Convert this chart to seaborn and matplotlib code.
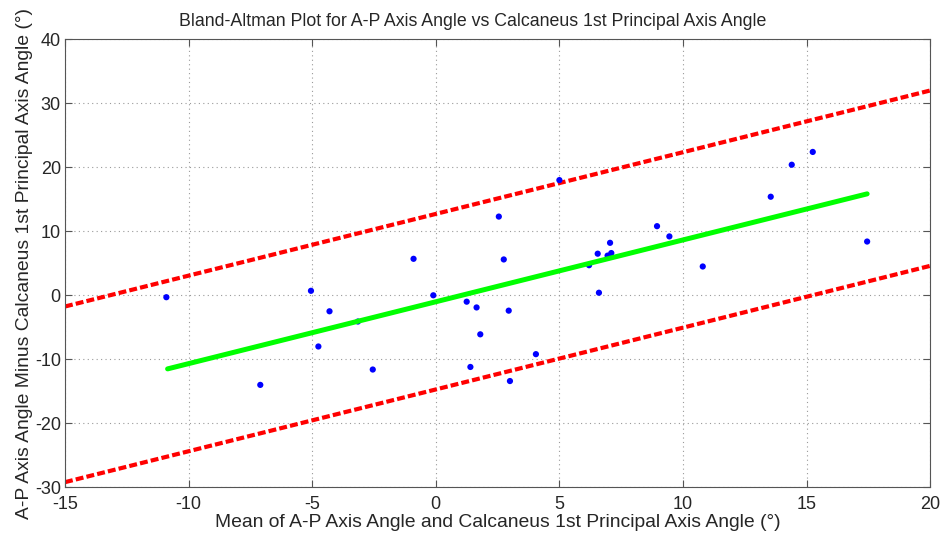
import numpy as np
import pandas as pd
import seaborn as sns
from matplotlib import pyplot as plt

# Bland-Altman data
mean_vals = [-10.9, -7.1, -5.05, -4.75, -4.3, -3.15, -2.55, -0.9, -0.1,
             1.25, 1.4, 1.65, 1.8, 2.55, 2.75, 2.95, 3.0, 4.05, 5.0,
             6.2, 6.55, 6.6, 7.05, 6.95, 7.1, 8.95, 9.45, 10.8, 13.55,
             14.4, 15.25, 17.45]
diff_vals = [-0.3, -14.0, 0.7, -8.0, -2.5, -4.1, -11.6, 5.7, 0.0,
             -1.0, -11.2, -1.9, -6.1, 12.3, 5.6, -2.4, -13.4, -9.2, 18.0,
             4.7, 6.5, 0.4, 8.2, 6.2, 6.6, 10.8, 9.2, 4.5, 15.4,
             20.4, 22.4, 8.4]

# regression line and limits of agreement (end points)
fit_x = [-10.85, 17.45]
fit_y = [-11.5, 15.85]
loa_x = [-15, 20]
upper_y = [-1.75, 32.0]
lower_y = [-29.2, 4.6]

x_ticks = list(range(-15, 21, 5))
y_ticks = list(range(-30, 41, 10))

sns.set_style("ticks")
plt.rcParams['font.family'] = ['Liberation Sans', 'DejaVu Sans']
plt.rcParams['axes.unicode_minus'] = False

fig = plt.figure(figsize=(9.45, 5.37), dpi=100)
ax = fig.add_axes([0.0688, 0.0926, 0.9155, 0.8342])

pts = pd.DataFrame({"mean": mean_vals, "diff": diff_vals})

for yy in (upper_y, lower_y):
    l = sns.lineplot(x=loa_x, y=yy, ax=ax, color=(1, 0, 0), linewidth=3.0,
                     zorder=2)
    l.lines[-1].set_dashes((1.9, 0.75))
    l.lines[-1].set_dash_capstyle("butt")

sns.scatterplot(data=pts, x="mean", y="diff", ax=ax, color=(0, 0, 1),
                s=20, edgecolor="none", zorder=3)

sns.lineplot(x=fit_x, y=fit_y, ax=ax, color=(0, 1, 0), linewidth=3.6,
             zorder=4)

ax.set_xlim(-15, 20)
ax.set_ylim(-30, 40)
ax.set_xticks(x_ticks)
ax.set_yticks(y_ticks)
ax.grid(True, linestyle=(0, (1, 3)), color="#9a9a9a", linewidth=0.8)
ax.set_axisbelow(True)
for s in ax.spines.values():
    s.set_color("#555555")
    s.set_linewidth(0.8)
ax.tick_params(direction="in", length=5, width=0.8, color="#555555",
               labelsize=13, top=True, right=True)
ax.tick_params(axis="x", pad=6)
ax.tick_params(axis="y", pad=3)

# MATLAB centres the title on the figure, not the axes
fig.text(0.5, 1 - 26 / 537, "Bland-Altman Plot for A-P Axis Angle vs Calcaneus 1st Principal Axis Angle",
         ha="center", va="baseline", fontsize=12.8)
ax.set_xlabel("Mean of A-P Axis Angle and Calcaneus 1st Principal Axis Angle (°)",
              fontsize=13.9, labelpad=1)
ax.set_ylabel("A-P Axis Angle Minus Calcaneus 1st Principal Axis Angle (°)",
              fontsize=13.9, labelpad=1)

fig.savefig("out.png", dpi=100)
